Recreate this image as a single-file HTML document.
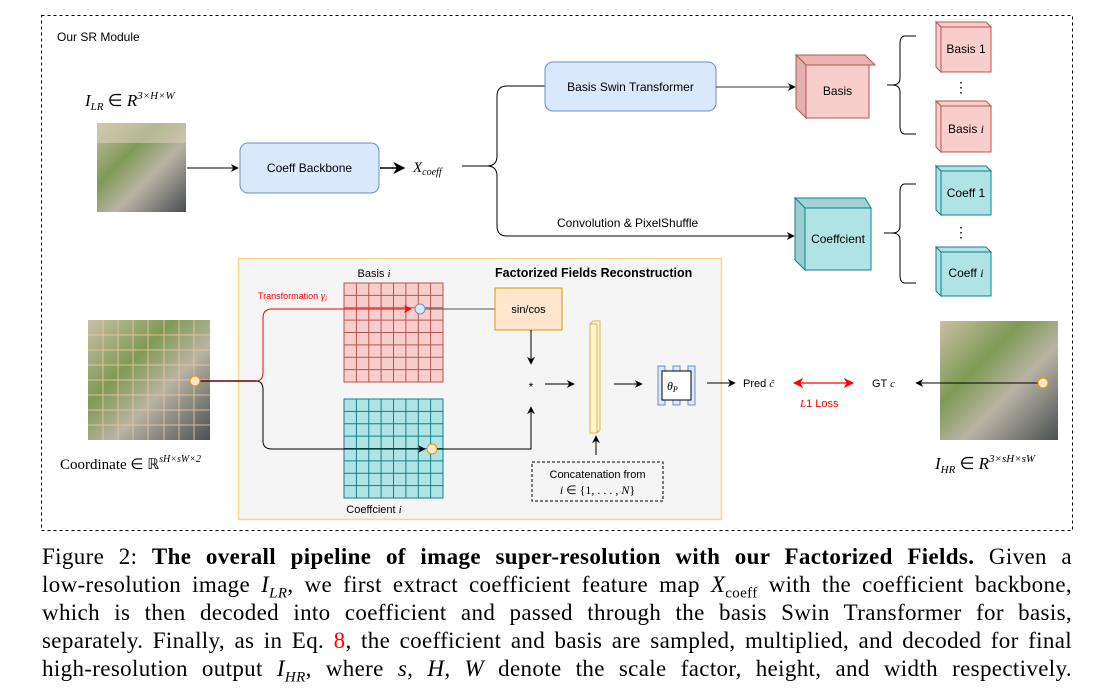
<!DOCTYPE html>
<html><head><meta charset="utf-8"><style>
body{margin:0;background:#fff;width:1118px;height:693px;overflow:hidden;position:relative}
svg{position:absolute;left:0;top:0}
.cap{position:absolute;left:42px;width:1030px;font-family:"Liberation Serif",serif;font-size:23px;letter-spacing:0.35px;color:#000;line-height:28px;top:543px}
.cap div{text-align:justify;text-align-last:justify;white-space:nowrap;height:28px}
.cap i{font-style:italic}
</style></head><body>
<svg width="1118" height="545" viewBox="0 0 1118 545" font-family="Liberation Sans, sans-serif">
<defs>
<marker id="a" viewBox="0 0 10 10" refX="9" refY="5" markerWidth="8" markerHeight="8" orient="auto"><path d="M0,0 L10,5 L0,10 L3,5z" fill="#000"/></marker>
<marker id="r" viewBox="0 0 10 10" refX="9" refY="5" markerWidth="8" markerHeight="8" orient="auto-start-reverse"><path d="M0,0 L10,5 L0,10 L3,5z" fill="#f00"/></marker>
<linearGradient id="img" x1="0" y1="0" x2="1" y2="1"><stop offset="0" stop-color="#c9bfa6"/><stop offset="0.35" stop-color="#7f9a55"/><stop offset="0.6" stop-color="#b9b3a4"/><stop offset="1" stop-color="#4a4f52"/></linearGradient>
</defs>
<rect x="41.5" y="15.5" width="1031" height="515" fill="none" stroke="#000" stroke-dasharray="3,3"/>
<text x="57" y="41" font-size="12">Our SR Module</text>
<text x="85" y="106" font-family="Liberation Serif,serif" font-style="italic" font-size="17">I<tspan font-size="11" dy="4">LR</tspan><tspan dy="-4" font-style="normal"> ∈ </tspan>R<tspan font-size="11" dy="-7">3×H×W</tspan></text>
<rect x="97" y="123" width="89" height="89" fill="url(#img)"/>
<rect x="97" y="123" width="89" height="20" fill="#d8cdb8" opacity=".6"/>
<line x1="187" y1="168" x2="238" y2="168" stroke="#000" marker-end="url(#a)"/>
<rect x="240" y="143" width="139" height="50" rx="8" fill="#dae8fc" stroke="#6c8ebf"/>
<text x="309.5" y="172" font-size="12" text-anchor="middle">Coeff Backbone</text>
<line x1="380" y1="168" x2="404" y2="168" stroke="#000" stroke-width="1.5" marker-end="url(#a)"/>
<text x="413" y="172" font-family="Liberation Serif,serif" font-style="italic" font-size="15">X<tspan font-size="10" dy="3">coeff</tspan></text>
<path d="M462,166 H487 Q497,166 497,156 V96 Q497,86 507,86 H545 M487,166 Q497,166 497,176 V226 Q497,236 507,236 H794" fill="none" stroke="#000"/>
<line x1="790" y1="236" x2="794" y2="236" stroke="#000" marker-end="url(#a)"/>
<rect x="545" y="62" width="171" height="49" rx="8" fill="#dae8fc" stroke="#6c8ebf"/>
<text x="630.5" y="91" font-size="12" text-anchor="middle">Basis Swin Transformer</text>
<line x1="716" y1="87" x2="795" y2="87" stroke="#333" marker-end="url(#a)"/>
<text x="557" y="227" font-size="12">Convolution &amp; PixelShuffle</text>
<g stroke="#b85450" fill="#f8cecc"><path d="M796,55 L865,55 L875,65 L806,65z" fill="#e8b3b1"/><path d="M796,55 L806,65 L806,118 L796,108z" fill="#e2b0ae"/><rect x="806" y="65" width="63" height="53"/></g>
<text x="837.5" y="95" font-size="12" text-anchor="middle">Basis</text>
<g stroke="#0e8088" fill="#b0e3e6"><path d="M795,198 L865,198 L871,208 L805,208z" fill="#9fd3d6"/><path d="M795,198 L805,208 L805,270 L795,260z" fill="#9acfd2"/><rect x="805" y="208" width="66" height="62"/></g>
<text x="838" y="243" font-size="12" text-anchor="middle">Coeffcient</text>
<path d="M916,36 H905 Q900,36 900,44 V78 Q900,85 892,85 H887 M892,85 Q900,85 900,92 V126 Q900,134 905,134 H916" fill="none" stroke="#000"/>
<path d="M916,184 H905 Q900,184 900,192 V226 Q900,233 892,233 H884 M892,233 Q900,233 900,240 V275 Q900,283 905,283 H916" fill="none" stroke="#000"/>
<g font-size="12" text-anchor="middle">
<g stroke="#b85450" fill="#f8cecc"><path d="M936,22 L986,22 L991,27 L941,27z"/><path d="M936,22 L941,27 L941,72 L936,67z"/><rect x="941" y="27" width="50" height="45"/>
<path d="M936,101 L986,101 L991,106 L941,106z"/><path d="M936,101 L941,106 L941,152 L936,147z"/><rect x="941" y="106" width="50" height="46"/></g>
<text x="966" y="53" stroke="none">Basis 1</text><text x="966" y="133">Basis <tspan font-family="Liberation Serif,serif" font-style="italic">i</tspan></text>
<text x="961" y="92" font-size="14">⋮</text>
<g stroke="#0e8088" fill="#b0e3e6"><path d="M936,166 L986,166 L991,171 L941,171z"/><path d="M936,166 L941,171 L941,215 L936,210z"/><rect x="941" y="171" width="50" height="44"/>
<path d="M936,247 L986,247 L991,252 L941,252z"/><path d="M936,247 L941,252 L941,296 L936,291z"/><rect x="941" y="252" width="50" height="44"/></g>
<text x="966" y="197">Coeff 1</text><text x="966" y="277">Coeff <tspan font-family="Liberation Serif,serif" font-style="italic">i</tspan></text>
<text x="961" y="237" font-size="14">⋮</text>
</g>
<rect x="238.5" y="258.5" width="483" height="261" fill="#f5f5f5" stroke="#f7d884" stroke-width="1.5"/>
<text x="495" y="277" font-size="12.5" font-weight="bold">Factorized Fields Reconstruction</text>
<text x="374" y="277" font-size="11" text-anchor="middle">Basis <tspan font-family="Liberation Serif,serif" font-style="italic">i</tspan></text>
<text x="374" y="513" font-size="11" text-anchor="middle">Coeffcient <tspan font-family="Liberation Serif,serif" font-style="italic">i</tspan></text>
<rect x="344" y="283" width="99" height="99" fill="#f8cecc" stroke="#b85450"/>
<path d="M356.4,283V382M368.8,283V382M381.1,283V382M393.5,283V382M405.9,283V382M418.3,283V382M430.6,283V382M344,295.4H443M344,307.8H443M344,320.1H443M344,332.5H443M344,344.9H443M344,357.3H443M344,369.6H443" stroke="#b85450"/>
<rect x="344" y="399" width="99" height="99" fill="#b0e3e6" stroke="#0e8088"/>
<path d="M356.4,399V498M368.8,399V498M381.1,399V498M393.5,399V498M405.9,399V498M418.3,399V498M430.6,399V498M344,411.4H443M344,423.8H443M344,436.1H443M344,448.5H443M344,460.9H443M344,473.3H443M344,485.6H443" stroke="#0e8088"/>
<rect x="88" y="320" width="122" height="120" fill="url(#img)"/>
<path d="M103,320V440M118,320V440M133,320V440M148,320V440M164,320V440M179,320V440M194,320V440M88,335H210M88,350H210M88,365H210M88,380H210M88,395H210M88,410H210M88,425H210" stroke="#f4c9a0" stroke-width="1" opacity=".8"/>
<text x="60" y="469" font-family="Liberation Serif,serif" font-size="15">Coordinate ∈ ℝ<tspan font-size="10" dy="-7" font-style="italic">sH×sW×2</tspan></text>
<path d="M195,381 H256" stroke="#600" stroke-width="1.5"/>
<path d="M256,381 Q263,381 263,372 V318 Q263,309 272,309 H411" fill="none" stroke="#f00" marker-end="url(#r)"/>
<path d="M256,381 Q263,381 263,390 V441 Q263,449 272,449 H425" fill="none" stroke="#000" marker-end="url(#a)"/>
<circle cx="195" cy="381" r="5" fill="#ffe6cc" stroke="#d79b00"/>
<text x="258" y="299" font-size="9" fill="#f00">Transformation <tspan font-family="Liberation Serif,serif" font-style="italic" font-size="11">γ<tspan font-size="7" dy="2">i</tspan></tspan></text>
<circle cx="420" cy="309" r="5" fill="#dae8fc" stroke="#6c8ebf"/>
<circle cx="432" cy="449" r="5" fill="#ffe6cc" stroke="#d79b00"/>
<line x1="425" y1="309" x2="495" y2="309" stroke="#555"/>
<rect x="495" y="288" width="67" height="42" fill="#ffe6cc" stroke="#d79b00"/>
<text x="528.5" y="313" font-size="11" text-anchor="middle">sin/cos</text>
<line x1="531" y1="330" x2="531" y2="364" stroke="#000" marker-end="url(#a)"/>
<text x="531" y="391" font-size="12" text-anchor="middle">*</text>
<path d="M437,449 H531 V407" fill="none" stroke="#000" marker-end="url(#a)"/>
<line x1="545" y1="384" x2="574" y2="384" stroke="#000" marker-end="url(#a)"/>
<path d="M590,324 L593,321 L600,321 L600,430 L597,433 L590,433z" fill="#fff2cc" stroke="#d6b656"/>
<line x1="590" y1="324" x2="597" y2="324" stroke="#d6b656"/><line x1="597" y1="324" x2="597" y2="433" stroke="#d6b656"/>
<line x1="614" y1="384" x2="642" y2="384" stroke="#000" marker-end="url(#a)"/>
<line x1="596" y1="455" x2="596" y2="436" stroke="#000" marker-end="url(#a)"/>
<rect x="532" y="462" width="131" height="39" fill="none" stroke="#000" stroke-dasharray="3,2"/>
<text x="597.5" y="478" font-size="11" text-anchor="middle">Concatenation from</text>
<text x="597.5" y="494" font-size="12" text-anchor="middle" font-family="Liberation Serif,serif"><tspan font-style="italic">i</tspan> ∈ {1, . . . , <tspan font-style="italic">N</tspan>}</text>
<g fill="#dae8fc" stroke="#6c8ebf"><rect x="658" y="366" width="7" height="39"/><rect x="673" y="366" width="7" height="39"/><rect x="688" y="366" width="7" height="39"/></g>
<rect x="662" y="371" width="29" height="29" fill="#fff" stroke="#000"/>
<text x="667" y="390" font-family="Liberation Serif,serif" font-style="italic" font-size="12">θ<tspan font-size="8" dy="2">P</tspan></text>
<line x1="707" y1="383" x2="735" y2="383" stroke="#000" marker-end="url(#a)"/>
<text x="743" y="387" font-size="11">Pred <tspan font-family="Liberation Serif,serif" font-style="italic">ĉ</tspan></text>
<line x1="794" y1="383" x2="853" y2="383" stroke="#f00" stroke-width="1.3" marker-start="url(#r)" marker-end="url(#r)"/>
<text x="800" y="407" font-size="11" fill="#f00"><tspan font-family="Liberation Serif,serif" font-style="italic">L</tspan>1 Loss</text>
<text x="872" y="387" font-size="11">GT <tspan font-family="Liberation Serif,serif" font-style="italic">c</tspan></text>
<rect x="940" y="321" width="118" height="119" fill="url(#img)"/>
<line x1="1043" y1="383" x2="916" y2="383" stroke="#000" marker-end="url(#a)"/>
<circle cx="1043" cy="383" r="5" fill="#ffe6cc" stroke="#d79b00"/>
<text x="935" y="469" font-family="Liberation Serif,serif" font-style="italic" font-size="17">I<tspan font-size="11" dy="4">HR</tspan><tspan dy="-4" font-style="normal"> ∈ </tspan>R<tspan font-size="11" dy="-7">3×sH×sW</tspan></text>
</svg>
<div class="cap">
<div>Figure 2: <b>The overall pipeline of image super-resolution with our Factorized Fields.</b> Given a</div>
<div>low-resolution image <i>I<sub style="font-size:15px">LR</sub></i>, we first extract coefficient feature map <i>X</i><sub style="font-size:15px">coeff</sub> with the coefficient backbone,</div>
<div>which is then decoded into coefficient and passed through the basis Swin Transformer for basis,</div>
<div>separately. Finally, as in Eq. <span style="color:#f00">8</span>, the coefficient and basis are sampled, multiplied, and decoded for final</div>
<div>high-resolution output <i>I<sub style="font-size:15px">HR</sub></i>, where <i>s</i>, <i>H</i>, <i>W</i> denote the scale factor, height, and width respectively.</div>
</div>
</body></html>
